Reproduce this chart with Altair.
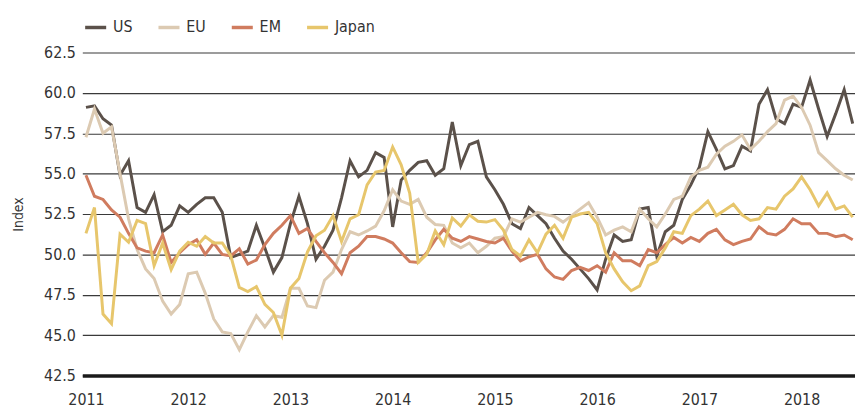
import altair as alt
import pandas as pd

series = ["US", "EU", "EM", "Japan"]
colors = ["#5b514a", "#dccab2", "#d07c5f", "#e7c66c"]
year_labels = [2011, 2012, 2013, 2014, 2015, 2016, 2017, 2018]
y_ticks = [42.5, 45.0, 47.5, 50.0, 52.5, 55.0, 57.5, 60.0, 62.5]

# monthly index values, Jan 2011 .. Jul 2018
us = [59.1, 59.2, 58.4, 58.0, 54.9, 55.8, 52.9, 52.6, 53.7, 51.4, 51.8, 53.0,
      52.6, 53.1, 53.5, 53.5, 52.6, 49.8, 50.0, 50.2, 51.8, 50.4, 48.9, 49.8,
      51.9, 53.6, 51.9, 49.7, 50.5, 51.5, 53.5, 55.8, 54.8, 55.2, 56.3, 56.0,
      51.7, 54.6, 55.2, 55.7, 55.8, 54.9, 55.3, 58.2, 55.5, 56.8, 57.0, 54.8,
      54.0, 53.1, 51.9, 51.6, 52.9, 52.4, 51.9, 51.0, 50.2, 49.7, 49.1, 48.5,
      47.8, 49.7, 51.2, 50.8, 50.9, 52.8, 52.9, 49.9, 51.4, 51.8, 53.4, 54.3,
      55.4, 57.6, 56.5, 55.3, 55.5, 56.7, 56.4, 59.3, 60.2, 58.4, 58.1, 59.3,
      59.1, 60.8, 59.0, 57.3, 58.7, 60.2, 58.1]
eu = [57.25, 59.0, 57.5, 57.9, 55.0, 52.2, 50.3, 49.1, 48.5, 47.1, 46.3, 46.9,
      48.8, 48.9, 47.6, 46.0, 45.2, 45.1, 44.1, 45.2, 46.2, 45.5, 46.2, 46.1,
      47.9, 47.9, 46.8, 46.7, 48.4, 48.9, 50.3, 51.4, 51.2, 51.45, 51.75, 52.7,
      54.0, 53.3, 53.1, 53.4, 52.3, 51.85, 51.8, 50.7, 50.4, 50.7, 50.1, 50.5,
      51.0, 51.1, 52.2, 52.0, 52.3, 52.6, 52.45, 52.35, 52.0, 52.4, 52.8, 53.2,
      52.3, 51.2, 51.5, 51.7, 51.4, 52.8, 52.2, 51.7, 52.5, 53.4, 53.6, 54.8,
      55.2, 55.4, 56.2, 56.7, 57.0, 57.4, 56.5, 57.0, 57.6, 58.1, 59.55, 59.8,
      59.1, 58.0, 56.3, 55.8, 55.3, 54.9, 54.6]
em = [54.9, 53.6, 53.4, 52.75, 52.3, 51.3, 50.4, 50.2, 50.1, 51.2, 49.5, 50.1,
      50.6, 50.9, 50.0, 50.7, 50.0, 49.9, 50.35, 49.4, 49.65, 50.6, 51.3, 51.8,
      52.4, 51.3, 51.6, 50.8, 50.1, 49.5, 48.8, 50.1, 50.5, 51.1, 51.1, 50.95,
      50.7, 50.1, 49.55, 49.5, 50.1, 50.9, 51.55, 51.0, 50.8, 51.1, 50.95, 50.8,
      50.7, 51.0, 50.2, 49.6, 49.85, 50.0, 49.1, 48.6, 48.45, 49.0, 49.2, 49.0,
      49.3, 48.9, 50.1, 49.6, 49.6, 49.3, 50.3, 50.1, 50.6, 51.05, 50.7, 51.05,
      50.8, 51.3, 51.55, 50.9, 50.6, 50.8, 50.95, 51.7, 51.3, 51.2, 51.55, 52.2,
      51.9, 51.9, 51.3, 51.3, 51.1, 51.2, 50.9]
japan = [51.3, 52.9, 46.3, 45.7, 51.25, 50.75, 52.1, 51.9, 49.3, 50.7, 49.05, 50.2,
         50.75, 50.5, 51.1, 50.7, 50.7, 49.9, 47.95, 47.7, 48.0, 46.9, 46.4, 45.0,
         47.9, 48.5, 50.15, 51.15, 51.5, 52.4, 50.8, 52.2, 52.45, 54.3, 55.1, 55.2,
         56.65, 55.55, 53.8, 49.5, 50.0, 51.45, 50.6, 52.25, 51.75, 52.45, 52.05, 52.0,
         52.15, 51.5, 50.3, 49.9, 50.9, 50.1, 51.25, 51.8, 51.0, 52.3, 52.5, 52.6,
         51.9, 50.1, 49.1, 48.3, 47.75, 48.05, 49.3, 49.55, 50.4, 51.4, 51.3, 52.4,
         52.8, 53.3, 52.4, 52.75, 53.1, 52.45, 52.1, 52.2, 52.9, 52.8, 53.6, 54.05,
         54.8, 54.0, 53.0, 53.8, 52.8, 53.0, 52.3]

rows = []
for name, vals in zip(series, [us, eu, em, japan]):
    for i, v in enumerate(vals):
        rows.append({"month": i, "series": name, "value": v})
df = pd.DataFrame(rows)

year_positions = [(y - 2011) * 12 for y in year_labels]

chart = alt.Chart(df).mark_line(strokeWidth=3, clip=True).encode(
    x=alt.X("month:Q",
            scale=alt.Scale(domain=[-0.43, 90.27], nice=False, zero=False),
            axis=alt.Axis(values=year_positions,
                          labelExpr="'' + (2011 + datum.value / 12)",
                          grid=False, ticks=False, domain=True,
                          domainColor="#1a1a1a", domainWidth=3.5,
                          labelPadding=16, labelFontSize=16,
                          labelColor="#333333"),
            title=None),
    y=alt.Y("value:Q",
            scale=alt.Scale(domain=[42.5, 62.5], nice=False, zero=False),
            axis=alt.Axis(values=y_ticks, format=".1f", grid=True,
                          gridColor="#3a3a3a", gridWidth=1.2,
                          domain=False, ticks=False, labelPadding=7,
                          labelFontSize=16, labelColor="#333333",
                          title="Index", titleFontSize=14,
                          titleFontWeight="normal", titleColor="#333333",
                          titlePadding=18),
            ),
    color=alt.Color("series:N",
                    scale=alt.Scale(domain=series, range=colors),
                    sort=series,
                    legend=alt.Legend(orient="none", legendX=1, legendY=-38,
                                      direction="horizontal", title=None,
                                      symbolType="stroke", symbolSize=450,
                                      symbolStrokeWidth=3.5,
                                      labelFontSize=16, labelColor="#333333",
                                      labelOffset=5, columnPadding=18)),
).properties(
    width=780,
    height=326,
    padding={"left": 75, "top": 43, "right": 0, "bottom": 40},
    autosize=alt.AutoSizeParams(type="none"),
).configure(
    font="'DejaVu Sans Condensed', 'Noto Sans', sans-serif"
).configure_view(
    stroke=None
)

chart.save("out.html", embed_options={"renderer": "svg", "actions": False})
